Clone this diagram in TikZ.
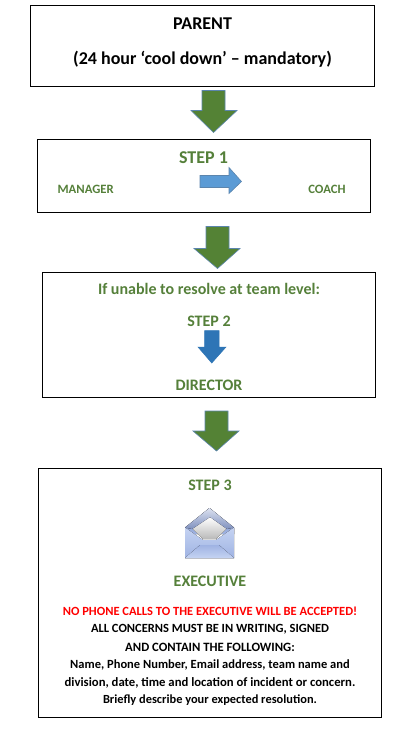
\documentclass[tikz,border=0pt]{standalone}
\usepackage{fontspec}
\setmainfont{Carlito}[BoldFont={Carlito Bold}]
\definecolor{grn}{HTML}{548235}
\definecolor{txtgrn}{HTML}{55803A}
\definecolor{edge}{HTML}{5B85AD}
\definecolor{ltblue}{HTML}{5B9BD5}
\definecolor{dkblue}{HTML}{2E75B6}
\definecolor{envlight}{HTML}{C5D3F2}
\definecolor{envmid}{HTML}{9FB3E3}
\definecolor{envdark}{HTML}{7F90BE}
\definecolor{envpale}{HTML}{DCE2F0}
\tikzset{
  box/.style={draw=black,line width=1pt,fill=white},
  greenarrow/.style={fill=grn,draw=edge,line width=0.6pt,line join=miter},
  bluearrow/.style={fill=ltblue,draw=edge,line width=0.6pt},
  darkarrow/.style={fill=dkblue,draw=dkblue,line width=0.5pt},
  lab/.style={inner sep=0pt,anchor=center,font=\bfseries},
  grntext/.style={lab,text=txtgrn},
}
\newcommand{\downblock}[8]{% style, left, right, top, neck, headL, headR, tip
  \path[#1] (#2,#4) -- (#3,#4) -- (#3,#5) -- (#7,#5) -- ({(#2+#3)/2},#8) -- (#6,#5) -- (#2,#5) -- cycle;}
\begin{document}
\begin{tikzpicture}[x=1pt,y=-1pt]
\useasboundingbox (0,0) rectangle (410,745);
\fill[white] (0,0) rectangle (410,745);
% boxes
\path[box] (30.5,5.5) rectangle (374.5,86.5);
\path[box] (37.5,139.5) rectangle (370.5,212.5);
\path[box] (42.5,272.5) rectangle (375.5,397.5);
\path[box] (38.5,468.5) rectangle (381.5,717.5);
% parent
\node[lab,font=\bfseries\fontsize{18}{18}\selectfont] (parent) at (202.5,23.5) {PARENT};
\node[lab,font=\bfseries\fontsize{18}{18}\selectfont] (cool) at (202.5,59.5) {(24 hour ‘cool down’ – mandatory)};
% green arrows
\downblock{greenarrow}{202}{225}{90.5}{110.5}{191}{237}{132.5}
\downblock{greenarrow}{206}{229}{226.5}{248.5}{194}{240}{268.5}
\downblock{greenarrow}{205}{228}{411}{431}{193}{239}{451}
% step 1
\node[grntext,font=\bfseries\fontsize{18}{18}\selectfont] (step1) at (203.5,157.5) {STEP 1};
\node[grntext,font=\bfseries\fontsize{12.7}{12.7}\selectfont] (manager) at (85.7,189) {MANAGER};
\node[grntext,font=\bfseries\fontsize{12.7}{12.7}\selectfont] (coach) at (327,189) {COACH};
\path[bluearrow] (200,175.5) -- (229,175.5) -- (229,167.5) -- (241.5,181.5) -- (229,193.5) -- (229,187.5) -- (200,187.5) -- cycle;
% step 2
\node[grntext,font=\bfseries\fontsize{16}{16}\selectfont] (unable) at (209,288.5) {If unable to resolve at team level:};
\node[grntext,font=\bfseries\fontsize{16}{16}\selectfont] (step2) at (209,321) {STEP 2};
\downblock{darkarrow}{204.5}{219}{330.5}{347}{198}{226}{363}
\node[grntext,font=\bfseries\fontsize{16}{16}\selectfont] (director) at (209,385) {DIRECTOR};
% step 3
\node[grntext,font=\bfseries\fontsize{16}{16}\selectfont] (step3) at (210,485) {STEP 3};
% envelope
\fill[top color=envdark,bottom color=envmid] (185,528) -- (209.5,508) -- (234,528) -- (234,534) -- (185,534) -- cycle;
\fill[top color=white,bottom color=gray!55!white] (192,528) -- (207,517) -- (210,517) -- (227,528) -- (216,539) -- (203,539) -- cycle;
\fill[top color=envlight,bottom color=envmid] (185,527.5) -- (203,540) -- (216,540) -- (234,527.5) -- (234,558) -- (185,558) -- cycle;
\fill[top color=envpale,bottom color=envdark] (209.5,508) -- (234,527.5) -- (227,529) -- (210,517) -- (192,529) -- (185,527.5) -- cycle;
\fill[top color=envmid,bottom color=envlight] (185,558) -- (200,545) -- (219,545) -- (234,558) -- cycle;
\node[grntext,font=\bfseries\fontsize{16}{16}\selectfont] (exec) at (210,581) {EXECUTIVE};
% note
\node[lab,text=red,font=\bfseries\fontsize{12.5}{12.5}\selectfont] (n1) at (210,611) {NO PHONE CALLS TO THE EXECUTIVE WILL BE ACCEPTED!};
\node[lab,font=\bfseries\fontsize{12.5}{12.5}\selectfont] (n2) at (210,629) {ALL CONCERNS MUST BE IN WRITING, SIGNED};
\node[lab,font=\bfseries\fontsize{12.7}{12.7}\selectfont] (n3) at (210,647) {AND CONTAIN THE FOLLOWING:};
\node[lab,font=\bfseries\fontsize{12.5}{12.5}\selectfont] (n4) at (210,665) {Name, Phone Number, Email address, team name and};
\node[lab,font=\bfseries\fontsize{12.7}{12.7}\selectfont] (n5) at (210,682.5) {division, date, time and location of incident or concern.};
\node[lab,font=\bfseries\fontsize{12.4}{12.4}\selectfont] (n6) at (210,700) {Briefly describe your expected resolution.};
\end{tikzpicture}
\end{document}
